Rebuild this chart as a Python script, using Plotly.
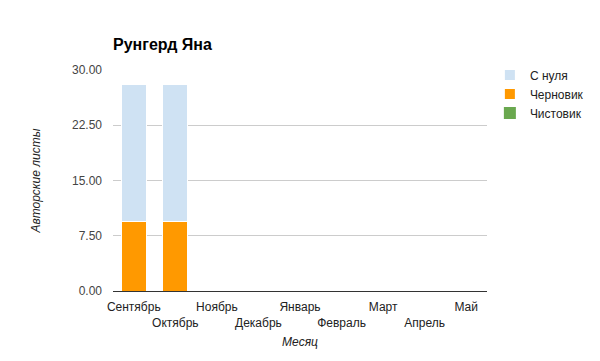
import plotly.graph_objects as go

months = ["Сентябрь", "Октябрь", "Ноябрь", "Декабрь", "Январь", "Февраль", "Март", "Апрель", "Май"]
s_nulya = [18.5, 18.5, 0, 0, 0, 0, 0, 0, 0]
chernovik = [9.5, 9.5, 0, 0, 0, 0, 0, 0, 0]
chistovik = [0, 0, 0, 0, 0, 0, 0, 0, 0]
yticks = [0, 7.5, 15, 22.5, 30]

ticktext = [m if i % 2 == 0 else "<br>" + m for i, m in enumerate(months)]

fig = go.Figure()
fig.add_trace(go.Bar(x=months, y=chernovik, name="Черновик", marker=dict(color="#ff9900", line=dict(color="white", width=1)), legendrank=2))
fig.add_trace(go.Bar(x=months, y=s_nulya, name="С нуля", marker=dict(color="#cfe2f3", line=dict(color="white", width=1)), legendrank=1))
fig.add_trace(go.Bar(x=months, y=chistovik, name="Чистовик", marker=dict(color="#6aa84f", line=dict(color="white", width=0)), legendrank=3))

fig.update_layout(
    barmode="stack",
    bargap=0.4,
    width=600, height=361,
    margin=dict(l=113, r=112, t=70, b=70),
    paper_bgcolor="white", plot_bgcolor="white",
    font=dict(family="Liberation Sans, Arial", size=12, color="#222"),
    title=dict(text="<b>Рунгерд Яна</b>", x=113/600, xanchor="left", y=1-44/361, yanchor="middle",
               font=dict(size=16, color="#000")),
    legend=dict(x=1.005, xanchor="left", y=1.043, yanchor="top", font=dict(size=12, color="#222"),
                traceorder="normal", itemsizing="constant", tracegroupgap=0, bgcolor="rgba(0,0,0,0)"),
    xaxis=dict(tickmode="array", tickvals=months, ticktext=ticktext, showgrid=False, tickangle=0,
               automargin=False, ticklabelstandoff=5,
               showline=True, linecolor="#333", linewidth=1, ticks="",
               tickfont=dict(size=12, color="#222"),
               title=dict(text="<i>Месяц</i>", font=dict(size=12, color="#222"), standoff=8)),
    yaxis=dict(range=[0, 30], tickvals=yticks, tickformat=".2f", gridcolor="#cccccc", automargin=False,
               ticklabelstandoff=10,
               zeroline=False, ticks="", tickfont=dict(size=12, color="#444"),
               title=dict(text="<i>Авторские листы</i>", font=dict(size=12, color="#222"), standoff=28)),
)

fig.write_html("out.html")
